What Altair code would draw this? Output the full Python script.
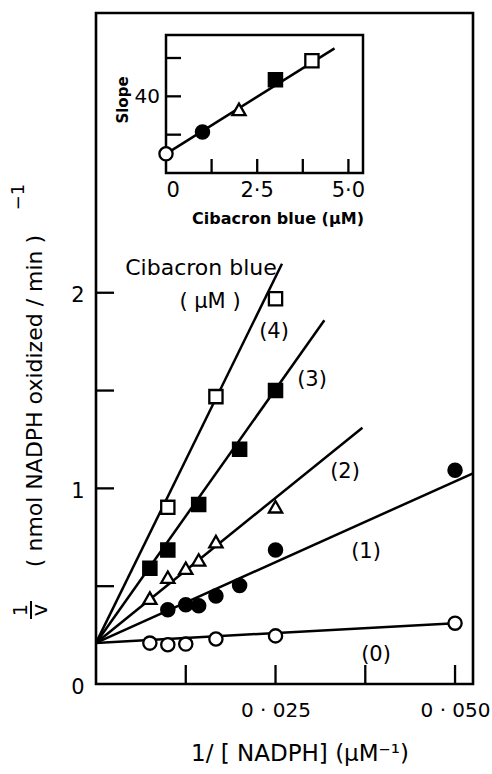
import altair as alt
import pandas as pd

# ---------------- data ----------------
series_ids = [0, 1, 2, 3, 4]

s0_x = [0.0075, 0.01, 0.0125, 0.0167, 0.025, 0.05]
s0_y = [0.209, 0.201, 0.204, 0.230, 0.246, 0.311]
s1_x = [0.01, 0.0125, 0.0143, 0.0167, 0.02, 0.025, 0.05]
s1_y = [0.379, 0.405, 0.400, 0.450, 0.503, 0.685, 1.093]
s2_x = [0.0075, 0.01, 0.0125, 0.0143, 0.0167, 0.025]
s2_y = [0.439, 0.546, 0.592, 0.634, 0.728, 0.906]
s3_x = [0.0075, 0.01, 0.0143, 0.02, 0.025]
s3_y = [0.592, 0.685, 0.918, 1.200, 1.500]
s4_x = [0.01, 0.0167, 0.025]
s4_y = [0.903, 1.469, 1.969]

# fitted lines: common intercept and end points
line_start_x = [0.0, 0.0, 0.0, 0.0, 0.0]
line_start_y = [0.21, 0.21, 0.21, 0.21, 0.21]
line_end_x = [0.05, 0.0525, 0.0371, 0.0318, 0.0259]
line_end_y = [0.311, 1.077, 1.31, 1.859, 2.148]
line_labels = ["(0)", "(1)", "(2)", "(3)", "(4)"]

x_tick_vals = [0.0125, 0.025, 0.0375, 0.05]
x_label_vals = [0.025, 0.05]
y_tick_vals = [0.5, 1.0, 1.5, 2.0]
y_label_vals = [0, 1, 2]

# inset: slope vs Cibacron blue
inset_dye = [0, 1, 2, 3, 4]
inset_slope = [25.0, 30.7, 36.6, 44.3, 49.3]
inset_line_x = [0.0, 4.62]
inset_line_y = [25.0, 52.5]
inset_x_ticks = [1.25, 2.5, 3.75, 5.0]
inset_x_labels = ["0", "2·5", "5·0"]
inset_x_label_vals = [0.2, 2.5, 5.0]
inset_y_ticks = [30, 40, 50]

# ---------------- build tables ----------------
pts = pd.DataFrame({
    "x": s0_x + s1_x + s2_x + s3_x + s4_x,
    "y": s0_y + s1_y + s2_y + s3_y + s4_y,
    "s": [0] * len(s0_x) + [1] * len(s1_x) + [2] * len(s2_x) + [3] * len(s3_x) + [4] * len(s4_x),
})
lines = pd.DataFrame({
    "x": line_start_x + line_end_x,
    "y": line_start_y + line_end_y,
    "s": series_ids + series_ids,
})
inset_pts = pd.DataFrame({"x": inset_dye, "y": inset_slope, "s": series_ids})
inset_ln = pd.DataFrame({"x": inset_line_x, "y": inset_line_y})

FONT = "DejaVu Sans"
W, H = 377, 671

xs = alt.Scale(domain=[0, 0.0525], nice=False, zero=False)
ys = alt.Scale(domain=[0, 3.43], nice=False, zero=False)
xaxis = alt.Axis(values=x_label_vals, ticks=False, domain=False, grid=False, title=None,
                 labelExpr="replace(format(datum.value, '.3f'), '.', ' · ')",
                 labelFont=FONT, labelFontSize=20, labelColor="black", labelPadding=16,
                 labelFlush=False)
yaxis = alt.Axis(values=y_label_vals, ticks=False, domain=False, grid=False, title=None,
                 labelFont=FONT, labelFontSize=21, labelColor="black", labelPadding=12,
                 labelOffset=3)
X = alt.X("x:Q", scale=xs, axis=xaxis)
Y = alt.Y("y:Q", scale=ys, axis=yaxis)

shape_spec = {
    0: dict(shape="circle", fill="white"),
    1: dict(shape="circle", fill="black"),
    2: dict(shape="triangle-up", fill="white"),
    3: dict(shape="square", fill="black"),
    4: dict(shape="square", fill="white"),
}

main_layers = []
main_layers.append(
    alt.Chart(lines).mark_line(color="black", strokeWidth=2.5).encode(x=X, y=Y, detail="s:N")
)
for sid in series_ids:
    spec = shape_spec[sid]
    main_layers.append(
        alt.Chart(pts).transform_filter(alt.datum.s == sid).mark_point(
            shape=spec["shape"], filled=True, fill=spec["fill"], stroke="black",
            strokeWidth=2.3, size=175, opacity=1
        ).encode(x=X, y=Y)
    )

# inward ticks
main_layers.append(
    alt.Chart(pd.DataFrame({"x": x_tick_vals})).mark_rule(color="black", strokeWidth=2.3)
    .encode(x=X, y=alt.value(H), y2=alt.value(H - 19))
)
main_layers.append(
    alt.Chart(pd.DataFrame({"y": y_tick_vals})).mark_rule(color="black", strokeWidth=2.3)
    .encode(y=Y, x=alt.value(0), x2=alt.value(18))
)


def txt(s, x, y, size, angle=0, weight="normal", align="center"):
    return alt.Chart(pd.DataFrame({"t": [s]})).mark_text(
        font=FONT, fontSize=size, fontWeight=weight, angle=angle, align=align,
        baseline="middle", color="black"
    ).encode(text="t:N", x=alt.value(x), y=alt.value(y))


label_pos = [(280, 642), (270, 539), (249, 459), (216, 367), (178, 319)]
for lab, (lx, ly) in zip(line_labels, label_pos):
    main_layers.append(txt(lab, lx, ly, 21))

main_layers.append(txt("Cibacron blue", 105, 255, 22))
main_layers.append(txt("( µM )", 114, 289, 21))

# axis titles
main_layers.append(txt("1/  [ NADPH] (µM⁻¹)", 204, 741, 23))
main_layers.append(txt("( nmol  NADPH  oxidized / min )", -61, 388, 22, angle=270))
main_layers.append(txt("−1", -77, 184, 18, angle=270))
main_layers.append(txt("1", -75, 597, 19, angle=270))
main_layers.append(txt("v", -55, 597, 21, angle=270))
main_layers.append(
    alt.Chart(pd.DataFrame({"t": [0]})).mark_rule(color="black", strokeWidth=2)
    .encode(x=alt.value(-65), y=alt.value(588), y2=alt.value(606))
)

main = alt.layer(*main_layers)

# ---------------- inset ----------------
ixs = alt.Scale(domain=[0, 5.4], range=[70, 267], nice=False, zero=False)
iys = alt.Scale(domain=[20, 56], range=[160, 22], nice=False, zero=False)
IX = alt.X("x:Q", scale=ixs, axis=None)
IY = alt.Y("y:Q", scale=iys, axis=None)

inset_layers = []
inset_layers.append(
    alt.Chart(pd.DataFrame({"a": [0]})).mark_rect(fill="white", stroke="black", strokeWidth=2.5)
    .encode(x=alt.X(datum=0, scale=ixs, axis=None), x2=alt.X2(datum=5.4),
            y=alt.Y(datum=20, scale=iys, axis=None), y2=alt.Y2(datum=56))
)
inset_layers.append(
    alt.Chart(pd.DataFrame({"x": inset_x_ticks})).mark_rule(color="black", strokeWidth=2.3)
    .encode(x=IX, y=alt.value(160), y2=alt.value(146))
)
inset_layers.append(
    alt.Chart(pd.DataFrame({"y": inset_y_ticks})).mark_rule(color="black", strokeWidth=2.3)
    .encode(y=IY, x=alt.value(70), x2=alt.value(85))
)
inset_layers.append(
    alt.Chart(inset_ln).mark_line(color="black", strokeWidth=2.5).encode(x=IX, y=IY)
)
for sid in series_ids:
    spec = shape_spec[sid]
    inset_layers.append(
        alt.Chart(inset_pts).transform_filter(alt.datum.s == sid).mark_point(
            shape=spec["shape"], filled=True, fill=spec["fill"], stroke="black",
            strokeWidth=2.3, size=175, opacity=1
        ).encode(x=IX, y=IY)
    )
inset_layers.append(
    alt.Chart(pd.DataFrame({"x": inset_x_label_vals, "t": inset_x_labels})).mark_text(
        font=FONT, fontSize=21, baseline="middle", align="center", color="black"
    ).encode(x=IX, y=alt.value(178), text="t:N")
)
inset_layers.append(txt("40", 64, 84, 20, align="right"))
inset_layers.append(txt("Slope", 27, 87, 15, angle=270, weight="bold"))
inset_layers.append(txt("Cibacron blue (µM)", 182, 206, 16, weight="bold"))

inset = alt.layer(*inset_layers)

chart = alt.layer(main, inset).resolve_scale(x="independent", y="independent").properties(
    width=W, height=H, autosize="none",
    padding={"left": 96, "top": 13, "right": 19, "bottom": 90},
    background="white",
).configure_view(stroke="black", strokeWidth=2.6)

chart.save("out.html", embed_options={"renderer": "svg", "actions": False})
